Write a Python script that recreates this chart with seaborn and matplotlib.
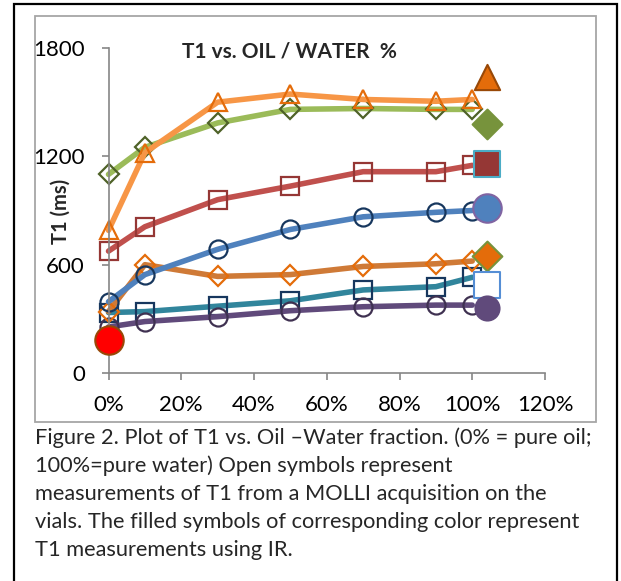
import matplotlib
matplotlib.use("Agg")
import matplotlib.pyplot as plt
import seaborn as sns
import numpy as np
from matplotlib.patches import Rectangle
from matplotlib.ticker import FuncFormatter

sns.set_theme(style="white")
plt.rcParams['font.family'] = ['Lato', 'DejaVu Sans']

# ---- data ----
water_pct = [0, 10, 30, 50, 70, 90, 100]
ir_pct = 104

molli_orange_tri = [790, 1220, 1500, 1545, 1515, 1505, 1515]
molli_green_dia = [1100, 1250, 1385, 1460, 1465, 1460, 1460]
molli_red_sq = [675, 810, 960, 1035, 1115, 1115, 1150]
molli_blue_circ = [395, 545, 685, 795, 865, 890, 900]
molli_orange_dia = [340, 600, 535, 545, 590, 605, 620]
molli_teal_sq = [335, 340, 370, 400, 460, 478, 530]
molli_purple_circ = [255, 285, 312, 345, 367, 376, 376]

ir_orange_tri = 1640
ir_green_dia = 1380
ir_red_sq = 1160
ir_blue_circ = 915
ir_orange_dia = 650
ir_teal_sq = 485
ir_purple_circ = 358
ir_red_oil = 185

yticks = [0, 600, 1200, 1800]
xticks = [0, 20, 40, 60, 80, 100, 120]

fig = plt.figure(figsize=(6.21, 5.81), dpi=100)
W, H = 621, 581
ax = fig.add_axes([108.5 / W, 1 - 373 / H, (545 - 108.5) / W, (373 - 48) / H])
ax.set_facecolor("none")

series = [
    (molli_teal_sq, "#31859C", "s", "#17375E"),
    (molli_purple_circ, "#604A7B", "o", "#3F3151"),
    (molli_orange_dia, "#CF7A37", "D", "#E46C0A"),
    (molli_blue_circ, "#4F81BD", "o", "#17375E"),
    (molli_red_sq, "#C0504D", "s", "#953735"),
    (molli_green_dia, "#9BBB59", "D", "#4F6228"),
    (molli_orange_tri, "#F79646", "^", "#E46C0A"),
]
for vals, lc, mk, mc in series:
    ms = 13 if mk != "D" else 10
    sns.lineplot(x=water_pct, y=vals, ax=ax, color=lc, lw=4, marker=mk,
                 markersize=ms, mfc="none", mec=mc, mew=1.6, clip_on=False)

filled = [
    (ir_orange_tri, "^", "#E46C0A", "#984807", 330),
    (ir_green_dia, "D", "#77933C", "#77933C", 230),
    (ir_red_sq, "s", "#953735", "#4BACC6", 360),
    (ir_blue_circ, "o", "#4F81BD", "#8064A2", 420),
    (ir_orange_dia, "D", "#E46C0A", "#77933C", 230),
    (ir_teal_sq, "s", "white", "#558ED5", 360),
    (ir_purple_circ, "o", "#604A7B", "#604A7B", 300),
]
for val, mk, fc, ec, s in filled:
    sns.scatterplot(x=[ir_pct], y=[val], ax=ax, marker=mk, s=s, color=fc,
                    edgecolor=ec, linewidth=1.5, clip_on=False, zorder=5)
sns.scatterplot(x=[0], y=[ir_red_oil], ax=ax, marker="o", s=420, color="#FF0000",
                edgecolor="#984807", linewidth=1.5, clip_on=False, zorder=6)

ax.set_xlim(0, 120)
ax.set_ylim(0, 1800)
ax.set_xticks(xticks)
ax.set_yticks(yticks)
ax.xaxis.set_major_formatter(FuncFormatter(lambda v, p: f"{int(v)}%"))
for sp in ["top", "right"]:
    ax.spines[sp].set_visible(False)
for sp in ["left", "bottom"]:
    ax.spines[sp].set_color("#868686")
    ax.spines[sp].set_linewidth(1.2)
ax.tick_params(axis="both", which="major", direction="out", length=5, width=1.2,
               color="#868686", labelsize=16, labelcolor="black", bottom=True, left=True)
ax.tick_params(axis="x", pad=11)
ax.tick_params(axis="y", pad=12)
ax.set_xlabel("")
ax.set_ylabel("")

fig.text(61 / W, 1 - 211 / H, "T1 (ms)", rotation=90, fontsize=14.5, fontweight="bold",
         ha="center", va="center")
fig.text(289 / W, 1 - 51 / H, "T1 vs. OIL / WATER  %", fontsize=15, fontweight="bold",
         ha="center", va="center")

# frames
fig.patches.append(Rectangle((14 / W, -0.01), (617 - 14) / W, (1 - 4 / H) + 0.01,
                             transform=fig.transFigure, fill=False, ec="black", lw=1.6))
fig.patches.append(Rectangle((35 / W, 1 - 422 / H), (596 - 35) / W, (422 - 16) / H,
                             transform=fig.transFigure, fill=False, ec="#A6A6A6", lw=1.3))

caption = [
    "Figure 2. Plot of T1 vs. Oil \u2013Water fraction. (0% = pure oil;",
    "100%=pure water) Open symbols represent",
    "measurements of T1 from a MOLLI acquisition on the",
    "vials. The filled symbols of corresponding color represent",
    "T1 measurements using IR.",
]
ys = [438, 466, 494, 522, 550]
for t, y in zip(caption, ys):
    fig.text(35 / W, 1 - y / H, t, fontsize=15.7, ha="left", va="center")

fig.savefig("out.png", dpi=100)
